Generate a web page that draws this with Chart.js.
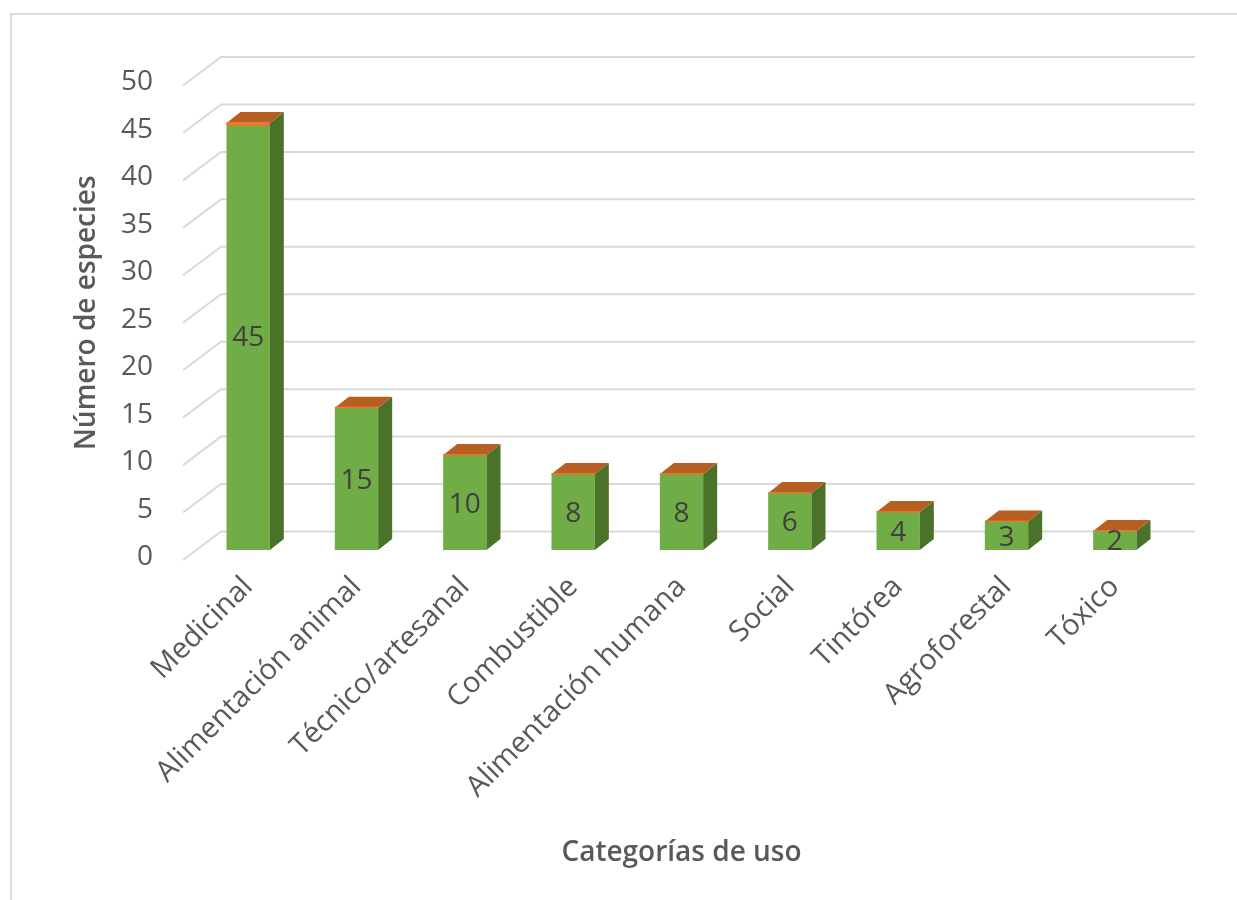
<!DOCTYPE html>
<html>
<head>
<meta charset="utf-8">
<script src="https://cdn.jsdelivr.net/npm/chart.js@4/dist/chart.umd.min.js"></script>
<style>
  html, body { margin: 0; padding: 0; background: #ffffff; }
  #wrap { position: relative; width: 1237px; height: 900px; }
  #frame { position: absolute; left: 10px; top: 13px; width: 1227px; height: 887px;
           border-top: 2px solid #dcdcdc; border-left: 2px solid #dcdcdc; box-sizing: border-box; }
  canvas { position: absolute; left: 0; top: 0; }
</style>
</head>
<body>
<div id="wrap">
  <div id="frame"></div>
  <canvas id="c" width="1237" height="900"></canvas>
</div>
<script>
const categories = ["Medicinal", "Alimentación animal", "Técnico/artesanal", "Combustible",
  "Alimentación humana", "Social", "Tintórea", "Agroforestal", "Tóxico"];
const especies = [45, 15, 10, 8, 8, 6, 4, 3, 2];
const yTicks = [0, 5, 10, 15, 20, 25, 30, 35, 40, 45, 50];

const FONT = "'Open Sans', 'Noto Sans', sans-serif";
const DEPTH_DX = 14, DEPTH_DY = -11;

const grid3d = {
  id: 'grid3d',
  beforeDatasetsDraw(chart) {
    const ctx = chart.ctx, y = chart.scales.y, area = chart.chartArea;
    ctx.save();
    ctx.strokeStyle = '#d9d9d9';
    ctx.lineWidth = 2;
    yTicks.forEach(v => {
      const py = y.getPixelForValue(v);
      ctx.beginPath();
      ctx.moveTo(area.left - 11, py + 10);
      ctx.lineTo(area.left + 27, py - 18.5);
      ctx.lineTo(1195, py - 18.5);
      ctx.stroke();
    });
    ctx.restore();
  }
};

const bars3d = {
  id: 'bars3d',
  afterDatasetsDraw(chart) {
    const ctx = chart.ctx;
    const meta = chart.getDatasetMeta(0);
    const base = chart.scales.y.getPixelForValue(0);
    ctx.save();
    meta.data.forEach((bar, i) => {
      const p = bar.getProps(['x', 'y', 'width'], true);
      const l = p.x - p.width / 2, r = p.x + p.width / 2, t = p.y;
      // side face
      ctx.fillStyle = '#4a7229';
      ctx.beginPath();
      ctx.moveTo(r, t);
      ctx.lineTo(r + DEPTH_DX, t + DEPTH_DY);
      ctx.lineTo(r + DEPTH_DX, base + DEPTH_DY);
      ctx.lineTo(r, base);
      ctx.closePath();
      ctx.fill();
      // top face
      ctx.fillStyle = '#b75f22';
      ctx.beginPath();
      ctx.moveTo(l, t);
      ctx.lineTo(r, t);
      ctx.lineTo(r + DEPTH_DX, t + DEPTH_DY);
      ctx.lineTo(l + DEPTH_DX, t + DEPTH_DY);
      ctx.closePath();
      ctx.fill();
      // front top edge highlight
      ctx.fillStyle = '#e8792f';
      ctx.fillRect(l, t - 1, p.width, i === 0 ? 4 : 1.5);
      // value label
      ctx.fillStyle = '#404040';
      ctx.font = "28px " + FONT;
      ctx.textAlign = 'center';
      ctx.textBaseline = 'middle';
      ctx.fillText(String(especies[i]), p.x, (t + base) / 2 + 2);
    });
    ctx.restore();
  }
};

new Chart(document.getElementById('c'), {
  type: 'bar',
  data: {
    labels: categories,
    datasets: [{
      data: especies,
      backgroundColor: '#70ad47',
      borderWidth: 0,
      barPercentage: 0.4,
      categoryPercentage: 1.0
    }]
  },
  options: {
    responsive: false,
    animation: false,
    devicePixelRatio: 1,
    layout: { padding: { left: 0, right: 68, top: 75.5, bottom: 0 } },
    plugins: { legend: { display: false }, tooltip: { enabled: false } },
    scales: {
      x: {
        grid: { display: false, drawTicks: false },
        border: { display: false },
        ticks: {
          minRotation: 45, maxRotation: 45,
          padding: 20,
          color: '#595959',
          font: { family: FONT, size: 29 }
        },
        title: {
          display: true, text: 'Categorías de uso', color: '#595959',
          font: { family: FONT, size: 28, weight: '600' },
          padding: { top: 0, bottom: 30 }
        },
        afterFit(s) { s.height = 350; }
      },
      y: {
        min: 0, max: 50,
        grid: { display: false, drawTicks: false },
        border: { display: false },
        afterBuildTicks(s) { s.ticks = yTicks.map(v => ({ value: v })); },
        ticks: {
          padding: 41,
          labelOffset: 7,
          color: '#595959',
          font: { family: FONT, size: 28 }
        },
        title: {
          display: true, text: 'Número de especies', color: '#595959',
          font: { family: FONT, size: 28, weight: '600' },
          padding: { top: 70, bottom: 0 }
        },
        afterFit(s) { s.width = 194; }
      }
    }
  },
  plugins: [grid3d, bars3d]
});
</script>
</body>
</html>
